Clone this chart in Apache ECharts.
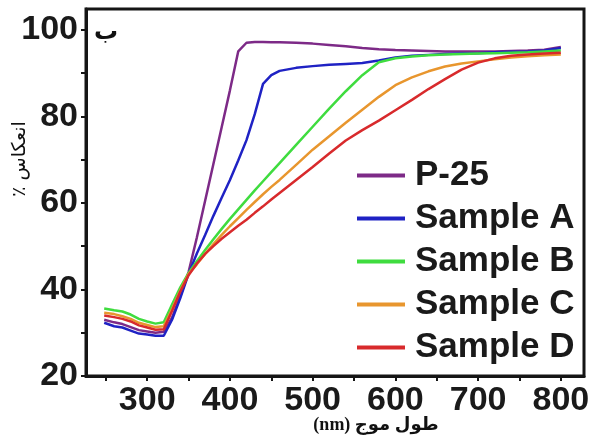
<!DOCTYPE html>
<html>
<head>
<meta charset="utf-8">
<script src="https://cdn.jsdelivr.net/npm/echarts@6/dist/echarts.min.js"></script>
<style>
  html, body { margin: 0; padding: 0; background: #fff; }
  #main { width: 598px; height: 438px; }
</style>
</head>
<body>
<div id="main"></div>
<script>
'use strict';
// wavelength (nm)
var wavelength = [248, 260, 270, 280, 290, 300, 310, 320, 330, 340, 350, 360, 370, 380, 390, 400, 410, 420, 430, 440, 450, 460, 480, 500, 520, 540, 560, 580, 600, 620, 640, 660, 680, 700, 720, 740, 760, 780, 800];

// reflectance (%)
var p25 =     [33.0, 32.4, 32.0, 31.3, 30.6, 30.3, 30.0, 30.2, 33.5, 38.5, 44.0, 52.0, 60.5, 69.0, 77.5, 86.0, 95.0, 97.0, 97.2, 97.2, 97.1, 97.1, 97.0, 96.8, 96.5, 96.2, 95.8, 95.5, 95.3, 95.2, 95.1, 95.0, 95.0, 95.0, 95.0, 95.1, 95.2, 95.4, 96.0];
var sampleA = [32.3, 31.5, 31.2, 30.5, 29.8, 29.6, 29.3, 29.3, 33.0, 38.0, 43.6, 48.3, 52.6, 57.0, 61.2, 65.3, 69.8, 74.5, 80.5, 87.5, 89.5, 90.5, 91.2, 91.6, 91.9, 92.1, 92.3, 92.9, 93.6, 94.0, 94.2, 94.4, 94.5, 94.6, 94.8, 94.9, 95.0, 95.2, 95.8];
var sampleB = [35.6, 35.2, 34.9, 34.2, 33.2, 32.6, 32.1, 32.4, 36.5, 40.5, 43.8, 46.5, 49.1, 51.6, 54.0, 56.3, 58.5, 60.7, 62.9, 65.0, 67.1, 69.2, 73.4, 77.6, 81.8, 85.8, 89.5, 92.5, 93.4, 93.8, 94.1, 94.3, 94.4, 94.5, 94.6, 94.7, 94.8, 95.0, 95.2];
var sampleC = [34.6, 34.3, 33.8, 33.2, 32.3, 31.8, 31.3, 31.5, 35.5, 39.8, 43.6, 45.8, 48.2, 50.5, 52.6, 54.6, 56.5, 58.4, 60.2, 62.0, 63.7, 65.3, 68.8, 72.3, 75.4, 78.5, 81.5, 84.5, 87.2, 89.0, 90.4, 91.5, 92.2, 92.7, 93.2, 93.6, 93.9, 94.1, 94.3];
var sampleD = [34.0, 33.6, 33.2, 32.6, 31.7, 31.2, 30.7, 30.8, 35.0, 39.5, 43.3, 46.0, 48.2, 50.0, 51.7, 53.2, 54.7, 56.1, 57.7, 59.2, 60.8, 62.3, 65.3, 68.3, 71.4, 74.4, 76.8, 79.0, 81.4, 83.8, 86.3, 88.6, 90.8, 92.4, 93.4, 94.0, 94.3, 94.5, 94.7];

var seriesNames = ['P-25', 'Sample A', 'Sample B', 'Sample C', 'Sample D'];
var seriesColors = ['#7d2a87', '#1f22c4', '#3fdc3f', '#e8962e', '#d82a2c'];
var seriesValues = [p25, sampleA, sampleB, sampleC, sampleD];

var xTicks = [250, 300, 350, 400, 450, 500, 550, 600, 650, 700, 750, 800];
var xLabels = [300, 400, 500, 600, 700, 800];
var yTicks = [20, 30, 40, 50, 60, 70, 80, 90, 100];
var yLabels = [20, 40, 60, 80, 100];

var axisColor = '#151515';
var labelFont = "'Liberation Sans', Arial, sans-serif";

var dom = document.getElementById('main');
var myChart = echarts.init(dom);

var series = seriesNames.map(function (name, i) {
    return {
        name: name,
        type: 'line',
        symbol: 'none',
        lineStyle: { width: 2.5, color: seriesColors[i] },
        itemStyle: { color: seriesColors[i] },
        data: wavelength.map(function (w, k) { return [w, seriesValues[i][k]]; })
    };
});

var option = {
    animation: false,
    grid: {
        left: 86, right: 14, top: 9, bottom: 62,
        show: true,
        borderColor: axisColor,
        borderWidth: 3
    },
    legend: {
        orient: 'vertical',
        left: 357,
        top: 158,
        padding: 0,
        itemGap: 8,
        itemWidth: 48,
        itemHeight: 4,
        icon: 'rect',
        data: seriesNames,
        textStyle: {
            fontFamily: labelFont,
            fontWeight: 'bold',
            fontSize: 35,
            lineHeight: 35,
            color: '#1a1a1a',
            padding: [0, 0, 0, 5]
        }
    },
    xAxis: {
        type: 'value',
        min: 226,
        max: 828,
        axisLine: { lineStyle: { color: axisColor, width: 3 } },
        axisTick: { customValues: xTicks, length: 5, lineStyle: { color: axisColor, width: 2 } },
        axisLabel: {
            customValues: xLabels,
            margin: 8,
            fontFamily: labelFont,
            fontWeight: 'bold',
            fontSize: 34,
            color: '#1a1a1a'
        },
        splitLine: { show: false }
    },
    yAxis: {
        type: 'value',
        min: 20,
        max: 104.8,
        axisLine: { lineStyle: { color: axisColor, width: 3 } },
        axisTick: { customValues: yTicks, length: 5, lineStyle: { color: axisColor, width: 2 } },
        axisLabel: {
            customValues: yLabels,
            margin: 8,
            fontFamily: labelFont,
            fontWeight: 'bold',
            fontSize: 34,
            color: '#1a1a1a'
        },
        splitLine: { show: false }
    },
    graphic: [
        {
            // برچسب پنل
            type: 'text',
            left: 94,
            top: 21,
            style: { text: 'ب', font: "bold 24px 'DejaVu Sans'", fill: '#111' }
        },
        {
            // عنوان محور عمودی
            type: 'text',
            x: 11,
            y: 159,
            rotation: Math.PI / 2,
            style: {
                text: '٪ انعکاس',
                font: "19px 'DejaVu Sans'",
                fill: '#111',
                align: 'center',
                verticalAlign: 'top'
            }
        },
        {
            // عنوان محور افقی
            type: 'text',
            x: 376,
            y: 425,
            style: {
                text: '(nm) طول موج',
                font: "bold 18px 'Liberation Serif', 'DejaVu Sans', serif",
                fill: '#111',
                align: 'center',
                verticalAlign: 'middle'
            }
        }
    ],
    series: series
};

myChart.setOption(option);
</script>
</body>
</html>
